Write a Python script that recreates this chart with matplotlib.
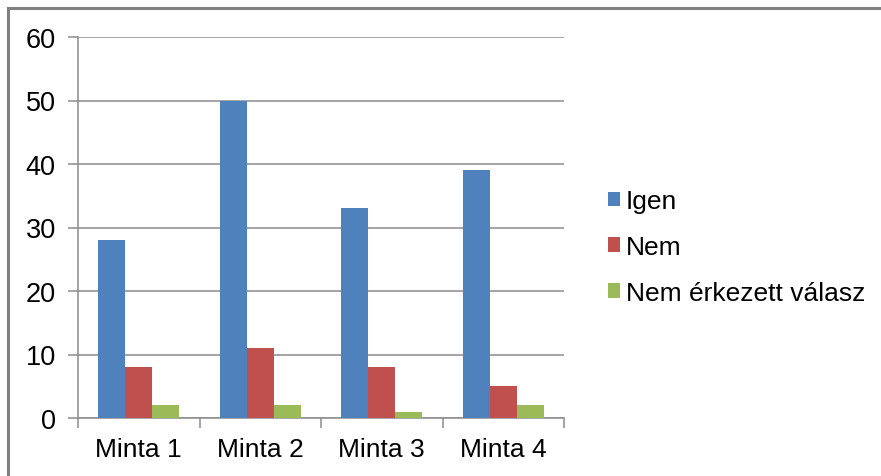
import numpy as np
from matplotlib import pyplot as plt
from matplotlib.patches import Patch
from matplotlib.lines import Line2D

plt.rcParams['font.family'] = ['Liberation Sans', 'DejaVu Sans']

categories = ['Minta 1', 'Minta 2', 'Minta 3', 'Minta 4']
series_names = ['Igen', 'Nem', 'Nem érkezett válasz']
igen = [28, 50, 33, 39]
nem = [8, 11, 8, 5]
nincs_valasz = [2, 2, 1, 2]
colors = ['#4F81BD', '#C0504D', '#9BBB59']
y_ticks = [0, 10, 20, 30, 40, 50, 60]

grid_color = '#8C8C8C'

fig = plt.figure(figsize=(8.81, 4.77), dpi=100)
ax = fig.add_axes([78 / 881, 1 - 419 / 477, (564 - 78) / 881, (419 - 38) / 477])

x = np.arange(len(categories))
width = 27 / 121.5
for k, (vals, col) in enumerate(zip([igen, nem, nincs_valasz], colors)):
    ax.bar(x + (k - 1) * width, vals, width, color=col, label=series_names[k],
           zorder=3, edgecolor='none')

ax.set_xlim(-0.5, len(categories) - 0.5)
ax.set_ylim(0, 60)
ax.set_yticks(y_ticks)
ax.yaxis.grid(True, color=grid_color, linewidth=1.1, zorder=0)

# category boundaries as major ticks, labels on minor ticks
ax.set_xticks(np.arange(len(categories) + 1) - 0.5)
ax.set_xticklabels([])
ax.set_xticks(x, minor=True)
ax.set_xticklabels(categories, minor=True)
ax.tick_params(axis='x', which='major', length=7, width=1.1, color=grid_color)
ax.tick_params(axis='x', which='minor', length=0, pad=14, labelsize=19)
ax.tick_params(axis='y', length=7, width=1.1, color=grid_color, pad=9, labelsize=19.5)

for s in ['top', 'right']:
    ax.spines[s].set_visible(False)
for s in ['left', 'bottom']:
    ax.spines[s].set_color(grid_color)
    ax.spines[s].set_linewidth(1.1)

handles = [Patch(facecolor=c, edgecolor='none') for c in colors]
fig.legend(handles, series_names, loc='center left',
           bbox_to_anchor=(597 / 881, 1 - 248 / 477), frameon=False,
           fontsize=19, handlelength=0.48, handleheight=0.48,
           handletextpad=0.2, labelspacing=0.82, borderaxespad=0)

# screenshot frame (top and left edges)
fig.add_artist(Line2D([8 / 881, 1], [1 - 9 / 477, 1 - 9 / 477], color='#808080',
                      linewidth=2.2, transform=fig.transFigure))
fig.add_artist(Line2D([8 / 881, 8 / 881], [0, 1 - 9 / 477], color='#808080',
                      linewidth=2.2, transform=fig.transFigure))

plt.savefig('out.png', dpi=100)
